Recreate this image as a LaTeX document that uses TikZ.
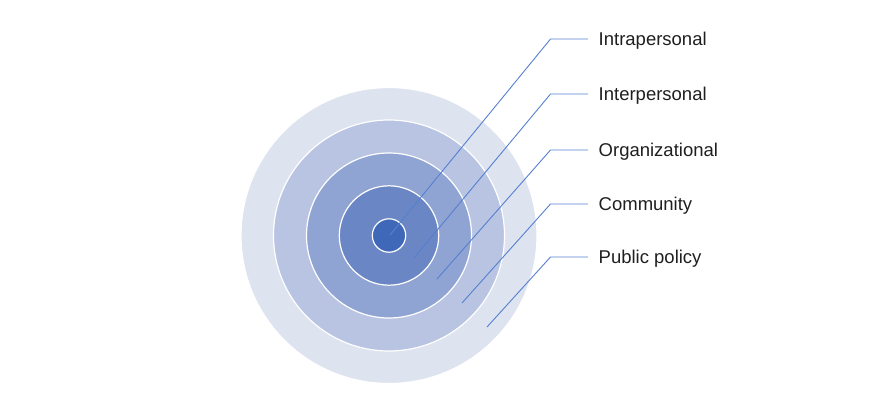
\documentclass[tikz,border=0pt]{standalone}
\usepackage{fontspec}
\setmainfont{Liberation Sans}
\usetikzlibrary{positioning,calc}
\definecolor{ringA}{HTML}{DEE3F0}
\definecolor{ringB}{HTML}{B8C4E2}
\definecolor{ringC}{HTML}{8FA4D2}
\definecolor{ringD}{HTML}{6A86C4}
\definecolor{ringE}{HTML}{3F69B8}
\definecolor{leadCol}{HTML}{5580D0}
\tikzset{
  ring/.style={circle,draw=white,line width=1.2pt,inner sep=0pt},
  lead/.style={draw=leadCol,line width=0.9pt},
  lab/.style={anchor=west,font=\fontsize{18.5}{22}\selectfont,text=black!88,
              text height=13pt,text depth=0pt,inner ysep=0pt,inner xsep=10.5pt},
}
\begin{document}
\begin{tikzpicture}[x=1pt,y=-1pt]
  \useasboundingbox (0,0) rectangle (887,410);
  \coordinate (o) at (389,235.5);
  % rings, outside in
  \foreach \i/\r/\c in {1/148/ringA,2/115.5/ringB,3/82.5/ringC,4/49.7/ringD,5/16.7/ringE}
    \node[ring,fill=\c,minimum size={2*\r pt}] (r\i) at (o) {};
  % leaders and labels
  \foreach \i/\y/\t/\px/\py in {1/39/Intrapersonal/390/235,2/94/Interpersonal/414/258,
      3/150/Organizational/437/279,4/204/Community/462/303,5/257/Public policy/487/327} {
    \node[lab] (l\i) at (588,\y) {\t};
    \coordinate (e\i) at (550.5,\y);
    \coordinate (p\i) at (\px,\py);
    \draw[lead] (p\i) -- (e\i) -- (l\i.west);
  }
\end{tikzpicture}
\end{document}
